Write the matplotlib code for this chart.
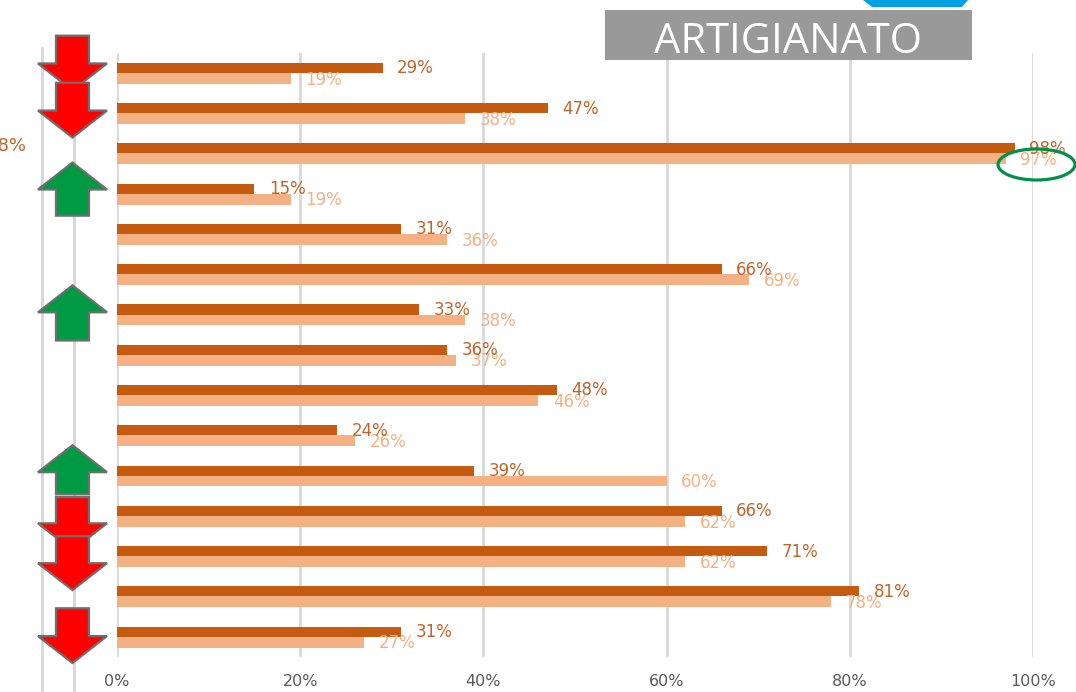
import numpy as np
import matplotlib
matplotlib.use("Agg")
import matplotlib.pyplot as plt
from matplotlib.patches import Polygon, Rectangle, Ellipse
from matplotlib.lines import Line2D

# values, top to bottom
dark_vals = [29, 47, 98, 15, 31, 66, 33, 36, 48, 24, 39, 66, 71, 81, 31]
light_vals = [19, 38, 97, 19, 36, 69, 38, 37, 46, 26, 60, 62, 62, 78, 27]
x_ticks = [0, 20, 40, 60, 80, 100]
tick_labels = [f"{t}%" for t in x_ticks]

# trend arrows: (row, direction, top offset, bottom offset) in row units
arrows = [
    (0, "down", -0.93, 0.43),
    (1, "down", -0.76, 0.60),
    (3, "up", -0.78, 0.54),
    (6, "up", -0.73, 0.64),
    (10, "up", -0.76, 0.46),
    (11, "down", -0.47, 0.85),
    (12, "down", -0.50, 0.84),
    (14, "down", -0.71, 0.65),
]

DARK = "#C55A11"
LIGHT = "#F4B183"
DARK_TXT = "#C0652A"
GRID = "#D9D9D9"

W, H = 1076, 692
fig = plt.figure(figsize=(W / 100, H / 100), dpi=100)
ax = fig.add_axes([117 / W, 1 - 657 / H, (1033 - 117) / W, (657 - 53) / H])

n = len(dark_vals)
y = np.arange(n)
ax.barh(y - 0.13, dark_vals, height=0.25, color=DARK, zorder=3)
ax.barh(y + 0.13, light_vals, height=0.27, color=LIGHT, zorder=3)

for i, (d, l) in enumerate(zip(dark_vals, light_vals)):
    ax.annotate(f"{d}%", (d, i - 0.12), xytext=(10.5, 0), textcoords="offset points",
                va="center", ha="left", color=DARK_TXT, fontsize=12, zorder=5)
    ax.annotate(f"{l}%", (l, i + 0.16), xytext=(10.5, 0), textcoords="offset points",
                va="center", ha="left", color=LIGHT, fontsize=12, zorder=4)

ax.set_xlim(0, 100)
ax.set_ylim(n - 0.5, -0.5)
ax.set_xticks(x_ticks)
ax.set_xticklabels(tick_labels, color="#595959", fontsize=11.5)
ax.set_yticks([])
ax.tick_params(axis="x", length=0, pad=12)
ax.grid(axis="x", color=GRID, linewidth=2)
ax.set_axisbelow(True)
for s in ax.spines.values():
    s.set_visible(False)

# arrows to the left of the plot
cx, head_hw, shaft_hw, head_len = -4.86, 3.77, 1.8, 0.67
for row, direction, top, bot in arrows:
    y0, y1 = row + top, row + bot
    if direction == "down":
        hb = y1 - head_len
        pts = [(cx - shaft_hw, y0), (cx + shaft_hw, y0), (cx + shaft_hw, hb),
               (cx + head_hw, hb), (cx, y1), (cx - head_hw, hb), (cx - shaft_hw, hb)]
        col = "#FF0000"
    else:
        hb = y0 + head_len
        pts = [(cx, y0), (cx + head_hw, hb), (cx + shaft_hw, hb), (cx + shaft_hw, y1),
               (cx - shaft_hw, y1), (cx - shaft_hw, hb), (cx - head_hw, hb)]
        col = "#009A44"
    ax.add_patch(Polygon(pts, closed=True, facecolor=col, edgecolor="#6E6E6E",
                         linewidth=1.6, clip_on=False, zorder=6))

# leftover gridlines and label of the neighbouring chart
for px in (42, 74):
    fig.add_artist(Line2D([px / W, px / W], [0, 1 - 48 / H], color="#D6D6D6",
                          linewidth=2, zorder=0))
fig.text(27 / W, 1 - 146 / H, "98%", ha="right", va="center", color=DARK_TXT, fontsize=13)

# title box
fig.add_artist(Rectangle((605 / W, 1 - 60 / H), (972 - 605) / W, 50 / H,
                         transform=fig.transFigure, facecolor="#999999", edgecolor="none"))
fig.text(788 / W, 1 - 53 / H, "ARTIGIANATO", ha="center", va="baseline",
         color="white", fontsize=30, family="Open Sans")
fig.add_artist(Polygon([(863 / W, 1), (968 / W, 1), (962 / W, 1 - 7 / H), (872 / W, 1 - 7 / H)],
                       closed=True, transform=fig.transFigure, facecolor="#00A0E4", edgecolor="none"))

# green ellipse around 97%
fig.add_artist(Ellipse((1036.5 / W, 1 - 164.5 / H), 77 / W, 31 / H, transform=fig.transFigure,
                       facecolor="none", edgecolor="#00914A", linewidth=2.3, zorder=10))

fig.savefig("out.png", dpi=100)
